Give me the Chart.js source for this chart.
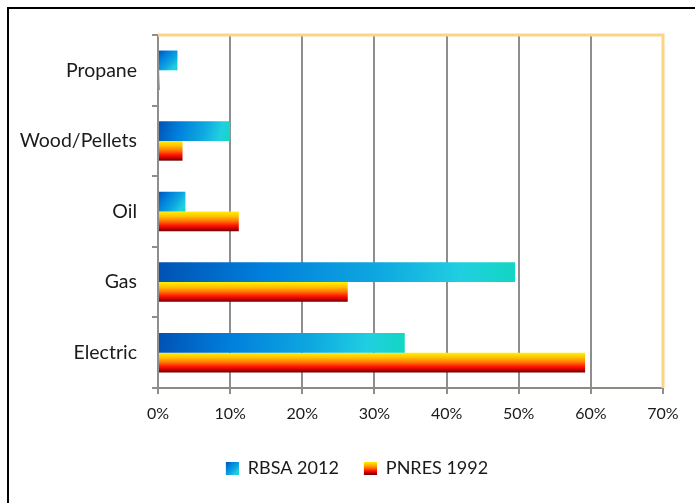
<!DOCTYPE html>
<html>
<head>
<meta charset="utf-8">
<script src="https://cdn.jsdelivr.net/npm/chart.js@4.4.1/dist/chart.umd.min.js"></script>
<style>
  html, body { margin: 0; padding: 0; background: #fff; }
  #wrap { width: 695px; height: 503px; }
</style>
</head>
<body>
<div id="wrap"><canvas id="chart" width="695" height="503"></canvas></div>
<script>
// ---- DATA ----
const categories = ["Propane", "Wood/Pellets", "Oil", "Gas", "Electric"];
const rbsa2012 = [2.7, 10.0, 3.8, 49.5, 34.2];
const pnres1992 = [0.2, 3.4, 11.2, 26.3, 59.2];
const seriesNames = ["RBSA 2012", "PNRES 1992"];
const xTicks = [0, 10, 20, 30, 40, 50, 60, 70];

const CAT_PCT = 0.56;
const FONT = "Lato";
const TEXT = "#1a1a1a";

// ---- GRADIENTS ----
function blueGrad(ctx, x0, y0, x1, y1) {
  const g = ctx.createLinearGradient(x0, y0, x1, y1);
  g.addColorStop(0, "#0052b4");
  g.addColorStop(0.3, "#0080dc");
  g.addColorStop(0.62, "#0ea8e0");
  g.addColorStop(0.85, "#20cfe0");
  g.addColorStop(1, "#12d6c2");
  return g;
}
function fireGrad(ctx, y0, y1) {
  const g = ctx.createLinearGradient(0, y0, 0, y1);
  g.addColorStop(0, "#fff200");
  g.addColorStop(0.25, "#ffc000");
  g.addColorStop(0.5, "#ff7000");
  g.addColorStop(0.7, "#ff1800");
  g.addColorStop(0.85, "#d00000");
  g.addColorStop(1, "#680000");
  return g;
}

// bar box from the scales, so every bar gets its own gradient
function barFill(context) {
  const chart = context.chart;
  const xs = chart.scales.x, ys = chart.scales.y;
  if (!xs || !ys || context.dataIndex === undefined) {
    return context.datasetIndex === 0 ? "#0a84dc" : "#ff5000";
  }
  const base = xs.getPixelForValue(0);
  const end = xs.getPixelForValue(context.raw);
  const center = ys.getPixelForValue(context.dataIndex);
  const thick = (ys.height / categories.length) * CAT_PCT / 2;
  const top = context.datasetIndex === 0 ? center - thick : center;
  if (context.datasetIndex === 0) return blueGrad(chart.ctx, base, top, end, top + thick);
  return fireGrad(chart.ctx, top, top + thick);
}

// small legend markers (transparent lead-in gives the gap between items)
function legendIcon(kind) {
  const c = document.createElement("canvas");
  c.width = 28; c.height = 13;
  const g = c.getContext("2d");
  g.fillStyle = kind === 0 ? blueGrad(g, 15, 0, 28, 13) : fireGrad(g, 0, 13);
  g.fillRect(15, 0, 13, 13);
  return c;
}
const icons = [legendIcon(0), legendIcon(1)];

// ---- FRAME ----
const framePlugin = {
  id: "frame",
  afterLayout(chart) {
    // legend sits a bit right of the canvas centre in the original
    chart.legend.left += 18;
    chart.legend.right += 18;
  },
  afterDraw(chart) {
    const { ctx, chartArea: a } = chart;
    ctx.save();
    ctx.strokeStyle = "#fdd386";
    ctx.lineWidth = 3;
    ctx.beginPath();
    ctx.moveTo(a.left, a.top);
    ctx.lineTo(a.right, a.top);
    ctx.lineTo(a.right, a.bottom);
    ctx.stroke();
    ctx.fillStyle = "#000";
    ctx.fillRect(7, 7, 695 - 7, 2);
    ctx.fillRect(7, 7, 2, 503 - 7);
    ctx.restore();
  }
};

const chart = new Chart(document.getElementById("chart").getContext("2d"), {
  type: "bar",
  data: {
    labels: categories,
    datasets: [
      { label: seriesNames[0], data: rbsa2012, backgroundColor: barFill },
      { label: seriesNames[1], data: pnres1992, backgroundColor: barFill }
    ]
  },
  options: {
    indexAxis: "y",
    responsive: false,
    animation: false,
    devicePixelRatio: 1,
    categoryPercentage: CAT_PCT,
    barPercentage: 1,
    layout: { padding: { top: 35, right: 32, bottom: 16, left: 0 } },
    scales: {
      x: {
        min: 0,
        max: 70,
        afterBuildTicks: s => { s.ticks = xTicks.map(v => ({ value: v })); },
        afterFit: s => { s.height = 61; },
        grid: { color: "#8e8e8e", lineWidth: 2, tickLength: 6 },
        border: { color: "#8c8a82", width: 2 },
        ticks: { color: TEXT, padding: 10, maxRotation: 0, font: { family: FONT, size: 16 }, callback: v => v + "%" }
      },
      y: {
        afterFit: s => { s.width = 158; },
        grid: { drawOnChartArea: false, color: "#8e8e8e", lineWidth: 2, tickLength: 6 },
        border: { color: "#8e8e8e", width: 2 },
        ticks: { color: TEXT, padding: 15, font: { family: FONT, size: 19.5 } }
      }
    },
    plugins: {
      tooltip: { enabled: false },
      legend: {
        position: "bottom",
        labels: {
          color: TEXT,
          padding: 10,
          usePointStyle: true,
          pointStyleWidth: 28,
          font: { family: FONT, size: 18 },
          generateLabels: c => c.data.datasets.map((d, i) => ({
            text: d.label,
            pointStyle: icons[i],
            fontColor: TEXT,
            lineWidth: 0,
            strokeStyle: "transparent",
            datasetIndex: i
          }))
        }
      }
    }
  },
  plugins: [framePlugin]
});
</script>
</body>
</html>
